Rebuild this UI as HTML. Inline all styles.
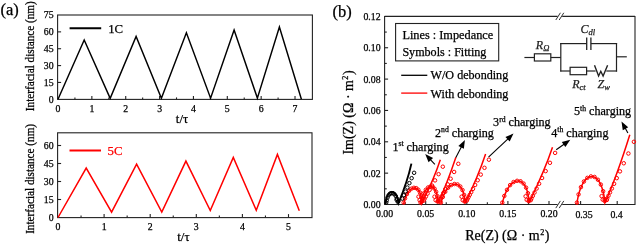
<!DOCTYPE html>
<html><head><meta charset="utf-8"><style>
html,body{margin:0;padding:0;background:#fff;}
svg{display:block;will-change:transform;}
text{font-family:"Liberation Serif",serif;stroke-width:0.25px;}
</style></head><body>
<svg width="637" height="244" viewBox="0 0 637 244">
<rect width="637" height="244" fill="#fff"/>
<rect x="57.6" y="15.0" width="254.80" height="84.40" fill="none" stroke="#222" stroke-width="1.1"/>
<text x="58.00" y="111.50" font-size="9.8" text-anchor="middle" fill="#000" stroke="#000" >0</text>
<line x1="74.93" y1="99.40" x2="74.93" y2="97.40" stroke="#222" stroke-width="1.1" />
<line x1="91.86" y1="99.40" x2="91.86" y2="95.90" stroke="#222" stroke-width="1.1" />
<text x="91.86" y="111.50" font-size="9.8" text-anchor="middle" fill="#000" stroke="#000" >1</text>
<line x1="108.79" y1="99.40" x2="108.79" y2="97.40" stroke="#222" stroke-width="1.1" />
<line x1="125.72" y1="99.40" x2="125.72" y2="95.90" stroke="#222" stroke-width="1.1" />
<text x="125.72" y="111.50" font-size="9.8" text-anchor="middle" fill="#000" stroke="#000" >2</text>
<line x1="142.65" y1="99.40" x2="142.65" y2="97.40" stroke="#222" stroke-width="1.1" />
<line x1="159.58" y1="99.40" x2="159.58" y2="95.90" stroke="#222" stroke-width="1.1" />
<text x="159.58" y="111.50" font-size="9.8" text-anchor="middle" fill="#000" stroke="#000" >3</text>
<line x1="176.51" y1="99.40" x2="176.51" y2="97.40" stroke="#222" stroke-width="1.1" />
<line x1="193.44" y1="99.40" x2="193.44" y2="95.90" stroke="#222" stroke-width="1.1" />
<text x="193.44" y="111.50" font-size="9.8" text-anchor="middle" fill="#000" stroke="#000" >4</text>
<line x1="210.37" y1="99.40" x2="210.37" y2="97.40" stroke="#222" stroke-width="1.1" />
<line x1="227.30" y1="99.40" x2="227.30" y2="95.90" stroke="#222" stroke-width="1.1" />
<text x="227.30" y="111.50" font-size="9.8" text-anchor="middle" fill="#000" stroke="#000" >5</text>
<line x1="244.23" y1="99.40" x2="244.23" y2="97.40" stroke="#222" stroke-width="1.1" />
<line x1="261.16" y1="99.40" x2="261.16" y2="95.90" stroke="#222" stroke-width="1.1" />
<text x="261.16" y="111.50" font-size="9.8" text-anchor="middle" fill="#000" stroke="#000" >6</text>
<line x1="278.09" y1="99.40" x2="278.09" y2="97.40" stroke="#222" stroke-width="1.1" />
<line x1="295.02" y1="99.40" x2="295.02" y2="95.90" stroke="#222" stroke-width="1.1" />
<text x="295.02" y="111.50" font-size="9.8" text-anchor="middle" fill="#000" stroke="#000" >7</text>
<text x="53.60" y="102.70" font-size="9.8" text-anchor="end" fill="#000" stroke="#000" >0</text>
<line x1="57.60" y1="82.44" x2="61.10" y2="82.44" stroke="#222" stroke-width="1.1" />
<text x="53.60" y="85.84" font-size="9.8" text-anchor="end" fill="#000" stroke="#000" >15</text>
<line x1="57.60" y1="65.58" x2="61.10" y2="65.58" stroke="#222" stroke-width="1.1" />
<text x="53.60" y="68.98" font-size="9.8" text-anchor="end" fill="#000" stroke="#000" >30</text>
<line x1="57.60" y1="48.72" x2="61.10" y2="48.72" stroke="#222" stroke-width="1.1" />
<text x="53.60" y="52.12" font-size="9.8" text-anchor="end" fill="#000" stroke="#000" >45</text>
<line x1="57.60" y1="31.86" x2="61.10" y2="31.86" stroke="#222" stroke-width="1.1" />
<text x="53.60" y="35.26" font-size="9.8" text-anchor="end" fill="#000" stroke="#000" >60</text>
<text x="53.60" y="18.40" font-size="9.8" text-anchor="end" fill="#000" stroke="#000" >75</text>
<polyline points="58.00,99.30 84.20,40.01 110.19,98.36 136.10,36.47 161.39,98.29 186.39,32.76 210.59,98.19 234.10,29.95 257.38,98.09 279.40,27.06 301.40,99.30" fill="none" stroke="#000" stroke-width="1.45" stroke-linejoin="miter" stroke-miterlimit="10" />
<line x1="69.60" y1="28.20" x2="101.20" y2="28.20" stroke="#000" stroke-width="2" />
<text x="108.20" y="32.80" font-size="12.8" text-anchor="start" fill="#000" stroke="#000" >1C</text>
<text x="182.00" y="123.00" font-size="12.8" text-anchor="middle" fill="#000" stroke="#000" >t/τ</text>
<text transform="translate(34.0,56.2) rotate(-90) scale(1,1.13)" font-size="11.2" text-anchor="middle" fill="#000" stroke="#000">Interfacial distance (nm)</text>
<text x="0.50" y="15.20" font-size="16.5" text-anchor="start" fill="#000" stroke="#000" >(a)</text>
<rect x="57.6" y="132.8" width="254.40" height="84.80" fill="none" stroke="#222" stroke-width="1.1"/>
<text x="58.00" y="229.80" font-size="9.8" text-anchor="middle" fill="#000" stroke="#000" >0</text>
<line x1="81.05" y1="217.60" x2="81.05" y2="215.60" stroke="#222" stroke-width="1.1" />
<line x1="104.10" y1="217.60" x2="104.10" y2="214.10" stroke="#222" stroke-width="1.1" />
<text x="104.10" y="229.80" font-size="9.8" text-anchor="middle" fill="#000" stroke="#000" >1</text>
<line x1="127.15" y1="217.60" x2="127.15" y2="215.60" stroke="#222" stroke-width="1.1" />
<line x1="150.20" y1="217.60" x2="150.20" y2="214.10" stroke="#222" stroke-width="1.1" />
<text x="150.20" y="229.80" font-size="9.8" text-anchor="middle" fill="#000" stroke="#000" >2</text>
<line x1="173.25" y1="217.60" x2="173.25" y2="215.60" stroke="#222" stroke-width="1.1" />
<line x1="196.30" y1="217.60" x2="196.30" y2="214.10" stroke="#222" stroke-width="1.1" />
<text x="196.30" y="229.80" font-size="9.8" text-anchor="middle" fill="#000" stroke="#000" >3</text>
<line x1="219.35" y1="217.60" x2="219.35" y2="215.60" stroke="#222" stroke-width="1.1" />
<line x1="242.40" y1="217.60" x2="242.40" y2="214.10" stroke="#222" stroke-width="1.1" />
<text x="242.40" y="229.80" font-size="9.8" text-anchor="middle" fill="#000" stroke="#000" >4</text>
<line x1="265.45" y1="217.60" x2="265.45" y2="215.60" stroke="#222" stroke-width="1.1" />
<line x1="288.50" y1="217.60" x2="288.50" y2="214.10" stroke="#222" stroke-width="1.1" />
<text x="288.50" y="229.80" font-size="9.8" text-anchor="middle" fill="#000" stroke="#000" >5</text>
<text x="53.60" y="220.90" font-size="9.8" text-anchor="end" fill="#000" stroke="#000" >0</text>
<line x1="57.60" y1="199.50" x2="61.10" y2="199.50" stroke="#222" stroke-width="1.1" />
<text x="53.60" y="202.90" font-size="9.8" text-anchor="end" fill="#000" stroke="#000" >15</text>
<line x1="57.60" y1="181.50" x2="61.10" y2="181.50" stroke="#222" stroke-width="1.1" />
<text x="53.60" y="184.90" font-size="9.8" text-anchor="end" fill="#000" stroke="#000" >30</text>
<line x1="57.60" y1="163.50" x2="61.10" y2="163.50" stroke="#222" stroke-width="1.1" />
<text x="53.60" y="166.90" font-size="9.8" text-anchor="end" fill="#000" stroke="#000" >45</text>
<line x1="57.60" y1="145.50" x2="61.10" y2="145.50" stroke="#222" stroke-width="1.1" />
<text x="53.60" y="148.90" font-size="9.8" text-anchor="end" fill="#000" stroke="#000" >60</text>
<polyline points="58.00,217.50 86.20,168.07 111.58,212.10 136.60,164.03 161.78,212.04 185.91,161.09 210.28,210.48 233.30,157.37 256.28,210.37 277.41,154.47 299.30,210.80" fill="none" stroke="#f00" stroke-width="1.5" stroke-linejoin="miter" stroke-miterlimit="10" />
<line x1="69.50" y1="150.50" x2="101.00" y2="150.50" stroke="#f00" stroke-width="2" />
<text x="107.50" y="155.00" font-size="12.8" text-anchor="start" fill="#f00" stroke="#f00" >5C</text>
<text x="183.40" y="241.40" font-size="12.8" text-anchor="middle" fill="#000" stroke="#000" >t/τ</text>
<text transform="translate(33.9,178.9) rotate(-90) scale(1,1.13)" font-size="11.2" text-anchor="middle" fill="#000" stroke="#000">Interfacial distance (nm)</text>
<line x1="384.60" y1="15.90" x2="384.60" y2="205.00" stroke="#222" stroke-width="1.1" />
<line x1="635.00" y1="15.90" x2="635.00" y2="205.00" stroke="#222" stroke-width="1.1" />
<line x1="384.60" y1="16.40" x2="557.60" y2="16.40" stroke="#222" stroke-width="1.1" />
<line x1="562.20" y1="16.40" x2="635.00" y2="16.40" stroke="#222" stroke-width="1.1" />
<line x1="384.60" y1="204.50" x2="557.60" y2="204.50" stroke="#222" stroke-width="1.1" />
<line x1="562.20" y1="204.50" x2="635.00" y2="204.50" stroke="#222" stroke-width="1.1" />
<line x1="555.80" y1="20.00" x2="560.40" y2="12.80" stroke="#333" stroke-width="1" />
<line x1="559.20" y1="20.00" x2="563.80" y2="12.80" stroke="#333" stroke-width="1" />
<line x1="555.80" y1="208.10" x2="560.40" y2="200.90" stroke="#333" stroke-width="1" />
<line x1="559.20" y1="208.10" x2="563.80" y2="200.90" stroke="#333" stroke-width="1" />
<text x="380.60" y="207.90" font-size="9.8" text-anchor="end" fill="#000" stroke="#000" >0.00</text>
<line x1="384.60" y1="188.82" x2="386.80" y2="188.82" stroke="#222" stroke-width="1.1" />
<line x1="384.60" y1="173.15" x2="388.10" y2="173.15" stroke="#222" stroke-width="1.1" />
<text x="380.60" y="176.55" font-size="9.8" text-anchor="end" fill="#000" stroke="#000" >0.02</text>
<line x1="384.60" y1="157.47" x2="386.80" y2="157.47" stroke="#222" stroke-width="1.1" />
<line x1="384.60" y1="141.80" x2="388.10" y2="141.80" stroke="#222" stroke-width="1.1" />
<text x="380.60" y="145.20" font-size="9.8" text-anchor="end" fill="#000" stroke="#000" >0.04</text>
<line x1="384.60" y1="126.12" x2="386.80" y2="126.12" stroke="#222" stroke-width="1.1" />
<line x1="384.60" y1="110.45" x2="388.10" y2="110.45" stroke="#222" stroke-width="1.1" />
<text x="380.60" y="113.85" font-size="9.8" text-anchor="end" fill="#000" stroke="#000" >0.06</text>
<line x1="384.60" y1="94.77" x2="386.80" y2="94.77" stroke="#222" stroke-width="1.1" />
<line x1="384.60" y1="79.10" x2="388.10" y2="79.10" stroke="#222" stroke-width="1.1" />
<text x="380.60" y="82.50" font-size="9.8" text-anchor="end" fill="#000" stroke="#000" >0.08</text>
<line x1="384.60" y1="63.42" x2="386.80" y2="63.42" stroke="#222" stroke-width="1.1" />
<line x1="384.60" y1="47.75" x2="388.10" y2="47.75" stroke="#222" stroke-width="1.1" />
<text x="380.60" y="51.15" font-size="9.8" text-anchor="end" fill="#000" stroke="#000" >0.10</text>
<line x1="384.60" y1="32.07" x2="386.80" y2="32.07" stroke="#222" stroke-width="1.1" />
<text x="380.60" y="19.80" font-size="9.8" text-anchor="end" fill="#000" stroke="#000" >0.12</text>
<text x="384.60" y="217.40" font-size="9.8" text-anchor="middle" fill="#000" stroke="#000" >0.00</text>
<line x1="405.15" y1="204.50" x2="405.15" y2="202.30" stroke="#222" stroke-width="1.1" />
<line x1="425.70" y1="204.50" x2="425.70" y2="201.00" stroke="#222" stroke-width="1.1" />
<text x="425.70" y="217.40" font-size="9.8" text-anchor="middle" fill="#000" stroke="#000" >0.05</text>
<line x1="446.25" y1="204.50" x2="446.25" y2="202.30" stroke="#222" stroke-width="1.1" />
<line x1="466.80" y1="204.50" x2="466.80" y2="201.00" stroke="#222" stroke-width="1.1" />
<text x="466.80" y="217.40" font-size="9.8" text-anchor="middle" fill="#000" stroke="#000" >0.10</text>
<line x1="487.35" y1="204.50" x2="487.35" y2="202.30" stroke="#222" stroke-width="1.1" />
<line x1="507.90" y1="204.50" x2="507.90" y2="201.00" stroke="#222" stroke-width="1.1" />
<text x="507.90" y="217.40" font-size="9.8" text-anchor="middle" fill="#000" stroke="#000" >0.15</text>
<line x1="528.45" y1="204.50" x2="528.45" y2="202.30" stroke="#222" stroke-width="1.1" />
<line x1="549.00" y1="204.50" x2="549.00" y2="201.00" stroke="#222" stroke-width="1.1" />
<text x="549.00" y="217.40" font-size="9.8" text-anchor="middle" fill="#000" stroke="#000" >0.20</text>
<line x1="580.60" y1="204.50" x2="580.60" y2="201.00" stroke="#222" stroke-width="1.1" />
<line x1="617.20" y1="204.50" x2="617.20" y2="201.00" stroke="#222" stroke-width="1.1" />
<text x="584.00" y="218.30" font-size="9.8" text-anchor="middle" fill="#000" stroke="#000" >0.35</text>
<text x="616.50" y="217.60" font-size="9.8" text-anchor="middle" fill="#000" stroke="#000" >0.4</text>
<text x="465.2" y="239.8" font-size="14" fill="#000" stroke="#000">Re(Z) (Ω · m<tspan font-size="8.2" dy="-5.2" dx="0.4">2</tspan><tspan dy="5.2" dx="0.5">)</tspan></text>
<g transform="translate(352.8,154.6) rotate(-90)"><text font-size="14" fill="#000" stroke="#000">Im(Z) (Ω · m<tspan font-size="8.2" dy="-5.2" dx="0.4">2</tspan><tspan dy="5.2" dx="0.5">)</tspan></text></g>
<text x="332.50" y="17.40" font-size="16.5" text-anchor="start" fill="#000" stroke="#000" >(b)</text>
<rect x="395.6" y="23.5" width="103.1" height="37.4" fill="none" stroke="#222" stroke-width="1.1"/>
<text x="402.40" y="38.70" font-size="12.3" text-anchor="start" fill="#000" stroke="#000" >Lines : Impedance</text>
<text x="402.40" y="55.80" font-size="12.1" text-anchor="start" fill="#000" stroke="#000" >Symbols : Fitting</text>
<line x1="401.20" y1="75.30" x2="427.30" y2="75.30" stroke="#000" stroke-width="1.3" />
<line x1="401.20" y1="93.10" x2="427.30" y2="93.10" stroke="#f00" stroke-width="1.3" />
<text x="430.60" y="79.40" font-size="12.1" text-anchor="start" fill="#000" stroke="#000" >W/O debonding</text>
<text x="430.60" y="97.80" font-size="12.1" text-anchor="start" fill="#000" stroke="#000" >With debonding</text>
<line x1="524.40" y1="57.50" x2="534.40" y2="57.50" stroke="#222" stroke-width="1.2" />
<rect x="534.4" y="53.8" width="16.4" height="7.2" fill="none" stroke="#222" stroke-width="1.2"/>
<line x1="550.80" y1="57.50" x2="560.80" y2="57.50" stroke="#222" stroke-width="1.2" />
<line x1="560.80" y1="43.00" x2="560.80" y2="71.60" stroke="#222" stroke-width="1.2" />
<line x1="560.20" y1="43.60" x2="586.70" y2="43.60" stroke="#222" stroke-width="1.2" />
<line x1="586.70" y1="37.50" x2="586.70" y2="49.90" stroke="#222" stroke-width="1.3" />
<line x1="590.90" y1="37.50" x2="590.90" y2="49.90" stroke="#222" stroke-width="1.3" />
<line x1="590.90" y1="43.60" x2="617.10" y2="43.60" stroke="#222" stroke-width="1.2" />
<line x1="560.20" y1="71.00" x2="570.10" y2="71.00" stroke="#222" stroke-width="1.2" />
<rect x="570.1" y="67.3" width="16.5" height="7.4" fill="none" stroke="#222" stroke-width="1.2"/>
<line x1="586.60" y1="71.00" x2="595.60" y2="71.00" stroke="#222" stroke-width="1.2" />
<polyline points="594.50,65.30 598.60,76.00 600.80,71.30 603.10,76.00 607.60,65.30" fill="none" stroke="#222" stroke-width="1.4" stroke-linejoin="miter" stroke-miterlimit="10" />
<line x1="606.30" y1="71.00" x2="617.10" y2="71.00" stroke="#222" stroke-width="1.2" />
<line x1="616.50" y1="43.00" x2="616.50" y2="71.60" stroke="#222" stroke-width="1.2" />
<line x1="616.50" y1="56.80" x2="626.80" y2="56.80" stroke="#222" stroke-width="1.2" />
<text x="535.8" y="48.9" font-size="12" fill="#222" stroke="#222" font-style="italic">R<tspan font-size="8.5" dy="2.5">Ω</tspan></text>
<text x="580.6" y="32.5" font-size="12" fill="#222" stroke="#222" font-style="italic">C<tspan font-size="8.5" dy="2.5">dl</tspan></text>
<text x="572.2" y="88" font-size="12" fill="#222" stroke="#222" font-style="italic">R<tspan font-size="8.5" dy="2">ct</tspan></text>
<text x="597.5" y="88" font-size="12" fill="#222" stroke="#222" font-style="italic">Z<tspan font-size="8.5" dy="2">w</tspan></text>
<text x="392.4" y="150.5" font-size="12.1" fill="#000" stroke="#000">1<tspan font-size="7.7" dy="-4.3">st</tspan><tspan dy="4.3"> charging</tspan></text>
<text x="435.0" y="136.5" font-size="12.1" fill="#000" stroke="#000">2<tspan font-size="7.7" dy="-4.3">nd</tspan><tspan dy="4.3"> charging</tspan></text>
<text x="493.1" y="125.8" font-size="12.1" fill="#000" stroke="#000">3<tspan font-size="7.7" dy="-4.3">rd</tspan><tspan dy="4.3"> charging</tspan></text>
<text x="551.3" y="136.5" font-size="12.1" fill="#000" stroke="#000">4<tspan font-size="7.7" dy="-4.3">th</tspan><tspan dy="4.3"> charging</tspan></text>
<text x="574.0" y="115.3" font-size="12.1" fill="#000" stroke="#000">5<tspan font-size="7.7" dy="-4.3">th</tspan><tspan dy="4.3"> charging</tspan></text>
<line x1="434.90" y1="164.40" x2="430.14" y2="159.34" stroke="#000" stroke-width="1.1" />
<polygon points="425.20,154.10 433.08,157.94 428.57,162.19" fill="#000"/>
<line x1="455.60" y1="158.00" x2="461.58" y2="146.49" stroke="#000" stroke-width="1.1" />
<polygon points="464.90,140.10 463.87,148.81 458.37,145.95" fill="#000"/>
<line x1="488.50" y1="157.20" x2="508.26" y2="138.54" stroke="#000" stroke-width="1.1" />
<polygon points="513.50,133.60 509.67,141.48 505.41,136.97" fill="#000"/>
<line x1="556.20" y1="149.70" x2="564.41" y2="143.94" stroke="#000" stroke-width="1.1" />
<polygon points="570.30,139.80 565.37,147.05 561.81,141.97" fill="#000"/>
<line x1="627.90" y1="133.00" x2="625.00" y2="127.79" stroke="#000" stroke-width="1.1" />
<polygon points="621.50,121.50 628.20,127.16 622.78,130.17" fill="#000"/>
<path d="M403.60,204.00 L403.80,203.10 L404.02,202.20 L404.25,201.33 L404.49,200.46 L404.75,199.62 L405.03,198.79 L405.32,197.99 L405.62,197.20 L405.93,196.45 L406.26,195.71 L406.60,195.00 L406.95,194.32 L407.30,193.67 L407.67,193.05 L408.05,192.46 L408.43,191.90 L408.82,191.38 L409.22,190.89 L409.62,190.44 L410.03,190.02 L410.44,189.64 L410.86,189.30 L411.27,189.00 L411.69,188.74 L412.11,188.51 L412.53,188.33 L412.95,188.18 L413.37,188.08 L413.79,188.02 L414.20,188.00 L414.61,187.98 L415.02,188.01 L415.42,188.08 L415.82,188.18 L416.21,188.33 L416.59,188.52 L416.96,188.75 L417.33,189.02 L417.68,189.33 L418.02,189.67 L418.36,190.06 L418.68,190.48 L418.99,190.94 L419.28,191.43 L419.56,191.96 L419.83,192.52 L420.08,193.11 L420.32,193.74 L420.55,194.39 L420.75,195.08 L420.94,195.79 L421.12,196.53 L421.27,197.29 L421.41,198.08 L421.54,198.88 L421.64,199.71 L421.73,200.56 L421.79,201.43 L421.84,202.31 L421.88,203.20 Q434.39,178.02 440.30,159.70" fill="none" stroke="#f00" stroke-width="1.5" stroke-linejoin="miter"/>
<path d="M420.50,204.00 L420.69,203.03 L420.90,202.07 L421.13,201.13 L421.37,200.20 L421.62,199.29 L421.88,198.40 L422.16,197.54 L422.45,196.70 L422.75,195.88 L423.07,195.09 L423.39,194.33 L423.73,193.60 L424.07,192.90 L424.42,192.23 L424.78,191.60 L425.15,191.00 L425.52,190.43 L425.90,189.91 L426.29,189.42 L426.68,188.97 L427.07,188.57 L427.47,188.20 L427.86,187.87 L428.26,187.59 L428.66,187.35 L429.06,187.15 L429.46,187.00 L429.86,186.89 L430.26,186.82 L430.65,186.80 L431.04,186.79 L431.43,186.82 L431.81,186.89 L432.19,187.01 L432.56,187.17 L432.92,187.38 L433.27,187.62 L433.61,187.92 L433.95,188.25 L434.27,188.62 L434.59,189.04 L434.89,189.49 L435.18,189.99 L435.46,190.52 L435.73,191.09 L435.98,191.70 L436.22,192.34 L436.44,193.01 L436.65,193.72 L436.84,194.45 L437.02,195.22 L437.18,196.02 L437.33,196.84 L437.46,197.69 L437.57,198.56 L437.66,199.45 L437.74,200.36 L437.80,201.29 L437.84,202.24 L437.87,203.20 Q447.02,183.83 455.80,157.50" fill="none" stroke="#f00" stroke-width="1.5" stroke-linejoin="miter"/>
<path d="M440.80,204.00 L441.07,202.88 L441.35,201.78 L441.66,200.69 L441.99,199.62 L442.33,198.58 L442.70,197.56 L443.08,196.56 L443.48,195.59 L443.90,194.65 L444.33,193.74 L444.78,192.87 L445.24,192.02 L445.71,191.22 L446.20,190.45 L446.70,189.72 L447.21,189.03 L447.73,188.38 L448.25,187.78 L448.79,187.22 L449.33,186.70 L449.87,186.23 L450.42,185.81 L450.97,185.44 L451.53,185.11 L452.09,184.83 L452.64,184.61 L453.20,184.43 L453.75,184.30 L454.30,184.23 L454.85,184.20 L455.40,184.19 L455.93,184.23 L456.47,184.32 L456.99,184.46 L457.50,184.65 L458.01,184.90 L458.50,185.19 L458.98,185.53 L459.45,185.92 L459.90,186.35 L460.34,186.84 L460.77,187.36 L461.17,187.94 L461.56,188.56 L461.94,189.22 L462.29,189.92 L462.62,190.66 L462.94,191.44 L463.23,192.26 L463.51,193.11 L463.76,193.99 L463.99,194.91 L464.19,195.86 L464.38,196.84 L464.54,197.84 L464.67,198.87 L464.79,199.93 L464.88,201.00 L464.94,202.09 L464.98,203.20 Q477.80,177.40 485.60,154.00" fill="none" stroke="#f00" stroke-width="1.5" stroke-linejoin="miter"/>
<path d="M502.20,204.00 L502.48,202.70 L502.79,201.42 L503.12,200.16 L503.47,198.92 L503.84,197.70 L504.23,196.52 L504.65,195.36 L505.08,194.23 L505.53,193.14 L506.00,192.08 L506.49,191.07 L506.99,190.09 L507.51,189.15 L508.04,188.26 L508.58,187.41 L509.14,186.61 L509.70,185.86 L510.28,185.16 L510.86,184.51 L511.46,183.91 L512.06,183.36 L512.66,182.87 L513.27,182.44 L513.88,182.06 L514.50,181.74 L515.11,181.47 L515.72,181.27 L516.34,181.12 L516.94,181.03 L517.55,181.00 L518.15,180.98 L518.75,181.01 L519.34,181.10 L519.93,181.26 L520.50,181.47 L521.06,181.74 L521.61,182.06 L522.15,182.45 L522.67,182.89 L523.18,183.38 L523.68,183.93 L524.15,184.54 L524.61,185.19 L525.05,185.90 L525.47,186.66 L525.87,187.46 L526.25,188.31 L526.61,189.21 L526.94,190.15 L527.25,191.13 L527.54,192.15 L527.81,193.21 L528.05,194.31 L528.26,195.44 L528.45,196.60 L528.62,197.79 L528.75,199.01 L528.86,200.25 L528.95,201.52 L529.00,202.80 Q544.90,170.00 552.50,147.20" fill="none" stroke="#f00" stroke-width="1.5" stroke-linejoin="miter"/>
<path d="M576.90,204.00 L577.11,202.45 L577.34,200.92 L577.59,199.42 L577.88,197.94 L578.18,196.50 L578.51,195.08 L578.87,193.70 L579.24,192.36 L579.64,191.06 L580.06,189.80 L580.50,188.59 L580.96,187.43 L581.43,186.31 L581.93,185.25 L582.44,184.24 L582.97,183.29 L583.51,182.39 L584.06,181.55 L584.63,180.78 L585.21,180.06 L585.80,179.41 L586.40,178.83 L587.01,178.31 L587.63,177.86 L588.25,177.48 L588.87,177.16 L589.50,176.92 L590.13,176.74 L590.77,176.64 L591.40,176.60 L592.03,176.57 L592.66,176.61 L593.29,176.73 L593.91,176.91 L594.53,177.16 L595.13,177.48 L595.73,177.88 L596.32,178.33 L596.90,178.86 L597.47,179.45 L598.03,180.11 L598.57,180.83 L599.09,181.61 L599.61,182.45 L600.10,183.36 L600.57,184.32 L601.03,185.33 L601.47,186.40 L601.89,187.52 L602.28,188.69 L602.65,189.91 L603.01,191.18 L603.33,192.48 L603.64,193.83 L603.92,195.21 L604.17,196.63 L604.40,198.08 L604.60,199.56 L604.78,201.07 L604.93,202.60 Q616.68,176.68 629.80,134.70" fill="none" stroke="#f00" stroke-width="1.5" stroke-linejoin="miter"/>
<circle cx="403.65" cy="202.60" r="1.75" fill="none" stroke="#f00" stroke-width="1"/>
<circle cx="405.07" cy="198.37" r="1.75" fill="none" stroke="#f00" stroke-width="1"/>
<circle cx="406.93" cy="194.10" r="1.75" fill="none" stroke="#f00" stroke-width="1"/>
<circle cx="409.12" cy="190.80" r="1.75" fill="none" stroke="#f00" stroke-width="1"/>
<circle cx="411.49" cy="188.66" r="1.75" fill="none" stroke="#f00" stroke-width="1"/>
<circle cx="413.91" cy="187.81" r="1.75" fill="none" stroke="#f00" stroke-width="1"/>
<circle cx="416.24" cy="188.13" r="1.75" fill="none" stroke="#f00" stroke-width="1"/>
<circle cx="418.31" cy="189.75" r="1.75" fill="none" stroke="#f00" stroke-width="1"/>
<circle cx="420.01" cy="192.60" r="1.75" fill="none" stroke="#f00" stroke-width="1"/>
<circle cx="421.23" cy="196.50" r="1.75" fill="none" stroke="#f00" stroke-width="1"/>
<circle cx="421.88" cy="201.21" r="1.75" fill="none" stroke="#f00" stroke-width="1"/>
<circle cx="419.60" cy="200.20" r="1.75" fill="none" stroke="#f00" stroke-width="1"/>
<circle cx="418.50" cy="196.70" r="1.75" fill="none" stroke="#f00" stroke-width="1"/>
<circle cx="421.60" cy="201.60" r="1.75" fill="none" stroke="#f00" stroke-width="1"/>
<circle cx="423.70" cy="200.60" r="1.75" fill="none" stroke="#f00" stroke-width="1"/>
<circle cx="424.48" cy="199.00" r="1.75" fill="none" stroke="#f00" stroke-width="1"/>
<circle cx="425.90" cy="196.50" r="1.75" fill="none" stroke="#f00" stroke-width="1"/>
<circle cx="427.60" cy="193.50" r="1.75" fill="none" stroke="#f00" stroke-width="1"/>
<circle cx="429.64" cy="189.90" r="1.75" fill="none" stroke="#f00" stroke-width="1"/>
<circle cx="432.10" cy="185.58" r="1.75" fill="none" stroke="#f00" stroke-width="1"/>
<circle cx="435.04" cy="180.39" r="1.75" fill="none" stroke="#f00" stroke-width="1"/>
<circle cx="438.57" cy="174.17" r="1.75" fill="none" stroke="#f00" stroke-width="1"/>
<circle cx="442.80" cy="166.70" r="1.75" fill="none" stroke="#f00" stroke-width="1"/>
<circle cx="420.54" cy="202.60" r="1.75" fill="none" stroke="#f00" stroke-width="1"/>
<circle cx="421.92" cy="197.95" r="1.75" fill="none" stroke="#f00" stroke-width="1"/>
<circle cx="423.71" cy="193.37" r="1.75" fill="none" stroke="#f00" stroke-width="1"/>
<circle cx="425.80" cy="189.82" r="1.75" fill="none" stroke="#f00" stroke-width="1"/>
<circle cx="428.07" cy="187.52" r="1.75" fill="none" stroke="#f00" stroke-width="1"/>
<circle cx="430.37" cy="186.61" r="1.75" fill="none" stroke="#f00" stroke-width="1"/>
<circle cx="432.58" cy="186.97" r="1.75" fill="none" stroke="#f00" stroke-width="1"/>
<circle cx="434.55" cy="188.73" r="1.75" fill="none" stroke="#f00" stroke-width="1"/>
<circle cx="436.15" cy="191.80" r="1.75" fill="none" stroke="#f00" stroke-width="1"/>
<circle cx="437.29" cy="196.00" r="1.75" fill="none" stroke="#f00" stroke-width="1"/>
<circle cx="437.89" cy="201.06" r="1.75" fill="none" stroke="#f00" stroke-width="1"/>
<circle cx="435.60" cy="200.20" r="1.75" fill="none" stroke="#f00" stroke-width="1"/>
<circle cx="434.50" cy="196.70" r="1.75" fill="none" stroke="#f00" stroke-width="1"/>
<circle cx="437.60" cy="201.60" r="1.75" fill="none" stroke="#f00" stroke-width="1"/>
<circle cx="439.70" cy="200.60" r="1.75" fill="none" stroke="#f00" stroke-width="1"/>
<circle cx="440.25" cy="199.00" r="1.75" fill="none" stroke="#f00" stroke-width="1"/>
<circle cx="441.65" cy="196.27" r="1.75" fill="none" stroke="#f00" stroke-width="1"/>
<circle cx="443.33" cy="193.00" r="1.75" fill="none" stroke="#f00" stroke-width="1"/>
<circle cx="445.34" cy="189.08" r="1.75" fill="none" stroke="#f00" stroke-width="1"/>
<circle cx="447.75" cy="184.37" r="1.75" fill="none" stroke="#f00" stroke-width="1"/>
<circle cx="450.65" cy="178.72" r="1.75" fill="none" stroke="#f00" stroke-width="1"/>
<circle cx="454.13" cy="171.94" r="1.75" fill="none" stroke="#f00" stroke-width="1"/>
<circle cx="458.30" cy="163.80" r="1.75" fill="none" stroke="#f00" stroke-width="1"/>
<circle cx="440.89" cy="202.60" r="1.75" fill="none" stroke="#f00" stroke-width="1"/>
<circle cx="442.77" cy="197.05" r="1.75" fill="none" stroke="#f00" stroke-width="1"/>
<circle cx="445.24" cy="191.79" r="1.75" fill="none" stroke="#f00" stroke-width="1"/>
<circle cx="448.13" cy="187.71" r="1.75" fill="none" stroke="#f00" stroke-width="1"/>
<circle cx="451.27" cy="185.06" r="1.75" fill="none" stroke="#f00" stroke-width="1"/>
<circle cx="454.46" cy="184.01" r="1.75" fill="none" stroke="#f00" stroke-width="1"/>
<circle cx="457.53" cy="184.45" r="1.75" fill="none" stroke="#f00" stroke-width="1"/>
<circle cx="460.27" cy="186.50" r="1.75" fill="none" stroke="#f00" stroke-width="1"/>
<circle cx="462.51" cy="190.06" r="1.75" fill="none" stroke="#f00" stroke-width="1"/>
<circle cx="464.10" cy="194.91" r="1.75" fill="none" stroke="#f00" stroke-width="1"/>
<circle cx="464.96" cy="200.74" r="1.75" fill="none" stroke="#f00" stroke-width="1"/>
<circle cx="462.70" cy="200.20" r="1.75" fill="none" stroke="#f00" stroke-width="1"/>
<circle cx="461.60" cy="196.70" r="1.75" fill="none" stroke="#f00" stroke-width="1"/>
<circle cx="464.70" cy="201.60" r="1.75" fill="none" stroke="#f00" stroke-width="1"/>
<circle cx="466.80" cy="200.60" r="1.75" fill="none" stroke="#f00" stroke-width="1"/>
<circle cx="467.49" cy="199.00" r="1.75" fill="none" stroke="#f00" stroke-width="1"/>
<circle cx="468.52" cy="197.11" r="1.75" fill="none" stroke="#f00" stroke-width="1"/>
<circle cx="469.75" cy="194.84" r="1.75" fill="none" stroke="#f00" stroke-width="1"/>
<circle cx="471.24" cy="192.12" r="1.75" fill="none" stroke="#f00" stroke-width="1"/>
<circle cx="473.01" cy="188.86" r="1.75" fill="none" stroke="#f00" stroke-width="1"/>
<circle cx="475.15" cy="184.94" r="1.75" fill="none" stroke="#f00" stroke-width="1"/>
<circle cx="477.71" cy="180.24" r="1.75" fill="none" stroke="#f00" stroke-width="1"/>
<circle cx="480.78" cy="174.60" r="1.75" fill="none" stroke="#f00" stroke-width="1"/>
<circle cx="484.47" cy="167.82" r="1.75" fill="none" stroke="#f00" stroke-width="1"/>
<circle cx="488.90" cy="159.70" r="1.75" fill="none" stroke="#f00" stroke-width="1"/>
<circle cx="502.30" cy="202.60" r="1.75" fill="none" stroke="#f00" stroke-width="1"/>
<circle cx="504.32" cy="195.95" r="1.75" fill="none" stroke="#f00" stroke-width="1"/>
<circle cx="506.99" cy="189.84" r="1.75" fill="none" stroke="#f00" stroke-width="1"/>
<circle cx="510.14" cy="185.10" r="1.75" fill="none" stroke="#f00" stroke-width="1"/>
<circle cx="513.59" cy="182.03" r="1.75" fill="none" stroke="#f00" stroke-width="1"/>
<circle cx="517.11" cy="180.82" r="1.75" fill="none" stroke="#f00" stroke-width="1"/>
<circle cx="520.52" cy="181.26" r="1.75" fill="none" stroke="#f00" stroke-width="1"/>
<circle cx="523.58" cy="183.57" r="1.75" fill="none" stroke="#f00" stroke-width="1"/>
<circle cx="526.10" cy="187.65" r="1.75" fill="none" stroke="#f00" stroke-width="1"/>
<circle cx="527.93" cy="193.22" r="1.75" fill="none" stroke="#f00" stroke-width="1"/>
<circle cx="528.95" cy="199.97" r="1.75" fill="none" stroke="#f00" stroke-width="1"/>
<circle cx="526.70" cy="199.80" r="1.75" fill="none" stroke="#f00" stroke-width="1"/>
<circle cx="525.60" cy="196.30" r="1.75" fill="none" stroke="#f00" stroke-width="1"/>
<circle cx="528.70" cy="201.20" r="1.75" fill="none" stroke="#f00" stroke-width="1"/>
<circle cx="530.80" cy="200.20" r="1.75" fill="none" stroke="#f00" stroke-width="1"/>
<circle cx="531.38" cy="198.60" r="1.75" fill="none" stroke="#f00" stroke-width="1"/>
<circle cx="532.82" cy="195.83" r="1.75" fill="none" stroke="#f00" stroke-width="1"/>
<circle cx="534.54" cy="192.51" r="1.75" fill="none" stroke="#f00" stroke-width="1"/>
<circle cx="536.61" cy="188.52" r="1.75" fill="none" stroke="#f00" stroke-width="1"/>
<circle cx="539.10" cy="183.73" r="1.75" fill="none" stroke="#f00" stroke-width="1"/>
<circle cx="542.08" cy="177.99" r="1.75" fill="none" stroke="#f00" stroke-width="1"/>
<circle cx="545.66" cy="171.10" r="1.75" fill="none" stroke="#f00" stroke-width="1"/>
<circle cx="549.95" cy="162.82" r="1.75" fill="none" stroke="#f00" stroke-width="1"/>
<circle cx="555.10" cy="152.90" r="1.75" fill="none" stroke="#f00" stroke-width="1"/>
<circle cx="576.94" cy="202.60" r="1.75" fill="none" stroke="#f00" stroke-width="1"/>
<circle cx="578.57" cy="194.42" r="1.75" fill="none" stroke="#f00" stroke-width="1"/>
<circle cx="580.94" cy="187.15" r="1.75" fill="none" stroke="#f00" stroke-width="1"/>
<circle cx="583.92" cy="181.52" r="1.75" fill="none" stroke="#f00" stroke-width="1"/>
<circle cx="587.32" cy="177.87" r="1.75" fill="none" stroke="#f00" stroke-width="1"/>
<circle cx="590.93" cy="176.42" r="1.75" fill="none" stroke="#f00" stroke-width="1"/>
<circle cx="594.53" cy="176.96" r="1.75" fill="none" stroke="#f00" stroke-width="1"/>
<circle cx="597.90" cy="179.72" r="1.75" fill="none" stroke="#f00" stroke-width="1"/>
<circle cx="600.83" cy="184.57" r="1.75" fill="none" stroke="#f00" stroke-width="1"/>
<circle cx="603.13" cy="191.21" r="1.75" fill="none" stroke="#f00" stroke-width="1"/>
<circle cx="604.66" cy="199.24" r="1.75" fill="none" stroke="#f00" stroke-width="1"/>
<circle cx="602.70" cy="199.60" r="1.75" fill="none" stroke="#f00" stroke-width="1"/>
<circle cx="601.60" cy="196.10" r="1.75" fill="none" stroke="#f00" stroke-width="1"/>
<circle cx="604.70" cy="201.00" r="1.75" fill="none" stroke="#f00" stroke-width="1"/>
<circle cx="606.80" cy="200.00" r="1.75" fill="none" stroke="#f00" stroke-width="1"/>
<circle cx="607.18" cy="198.40" r="1.75" fill="none" stroke="#f00" stroke-width="1"/>
<circle cx="608.47" cy="195.68" r="1.75" fill="none" stroke="#f00" stroke-width="1"/>
<circle cx="610.01" cy="192.41" r="1.75" fill="none" stroke="#f00" stroke-width="1"/>
<circle cx="611.86" cy="188.49" r="1.75" fill="none" stroke="#f00" stroke-width="1"/>
<circle cx="614.08" cy="183.79" r="1.75" fill="none" stroke="#f00" stroke-width="1"/>
<circle cx="616.74" cy="178.15" r="1.75" fill="none" stroke="#f00" stroke-width="1"/>
<circle cx="619.94" cy="171.38" r="1.75" fill="none" stroke="#f00" stroke-width="1"/>
<circle cx="623.77" cy="163.25" r="1.75" fill="none" stroke="#f00" stroke-width="1"/>
<circle cx="628.38" cy="153.50" r="1.75" fill="none" stroke="#f00" stroke-width="1"/>
<circle cx="633.90" cy="141.80" r="1.75" fill="none" stroke="#f00" stroke-width="1"/>
<path d="M385.60,204.00 L385.65,203.32 L385.72,202.65 L385.80,201.99 L385.89,201.35 L385.99,200.71 L386.11,200.09 L386.24,199.49 L386.38,198.90 L386.53,198.33 L386.69,197.78 L386.86,197.25 L387.04,196.74 L387.23,196.25 L387.43,195.79 L387.64,195.35 L387.86,194.93 L388.09,194.54 L388.33,194.17 L388.57,193.83 L388.82,193.52 L389.08,193.23 L389.34,192.98 L389.61,192.75 L389.88,192.55 L390.16,192.38 L390.44,192.25 L390.73,192.14 L391.02,192.06 L391.31,192.02 L391.60,192.00 L391.89,191.96 L392.18,191.95 L392.48,191.98 L392.77,192.03 L393.06,192.11 L393.35,192.23 L393.64,192.38 L393.92,192.55 L394.21,192.76 L394.48,192.99 L394.76,193.26 L395.03,193.55 L395.29,193.87 L395.55,194.22 L395.80,194.59 L396.05,194.99 L396.29,195.41 L396.52,195.86 L396.74,196.34 L396.96,196.83 L397.16,197.35 L397.36,197.89 L397.54,198.44 L397.72,199.02 L397.89,199.61 L398.04,200.22 L398.19,200.85 L398.32,201.49 L398.44,202.14 L398.55,202.80 Q407.55,181.33 411.40,163.60" fill="none" stroke="#000" stroke-width="1.9" stroke-linejoin="miter"/>
<circle cx="386.22" cy="202.60" r="1.75" fill="none" stroke="#000" stroke-width="1"/>
<circle cx="386.70" cy="200.47" r="1.75" fill="none" stroke="#000" stroke-width="1"/>
<circle cx="387.52" cy="197.54" r="1.75" fill="none" stroke="#000" stroke-width="1"/>
<circle cx="388.63" cy="195.26" r="1.75" fill="none" stroke="#000" stroke-width="1"/>
<circle cx="389.97" cy="193.79" r="1.75" fill="none" stroke="#000" stroke-width="1"/>
<circle cx="391.45" cy="193.21" r="1.75" fill="none" stroke="#000" stroke-width="1"/>
<circle cx="392.97" cy="193.28" r="1.75" fill="none" stroke="#000" stroke-width="1"/>
<circle cx="394.45" cy="194.24" r="1.75" fill="none" stroke="#000" stroke-width="1"/>
<circle cx="395.79" cy="196.06" r="1.75" fill="none" stroke="#000" stroke-width="1"/>
<circle cx="396.91" cy="198.63" r="1.75" fill="none" stroke="#000" stroke-width="1"/>
<circle cx="397.75" cy="201.79" r="1.75" fill="none" stroke="#000" stroke-width="1"/>
<circle cx="396.60" cy="199.80" r="1.75" fill="none" stroke="#000" stroke-width="1"/>
<circle cx="398.40" cy="201.20" r="1.75" fill="none" stroke="#000" stroke-width="1"/>
<circle cx="402.32" cy="198.60" r="1.75" fill="none" stroke="#000" stroke-width="1"/>
<circle cx="403.85" cy="195.26" r="1.75" fill="none" stroke="#000" stroke-width="1"/>
<circle cx="405.52" cy="191.58" r="1.75" fill="none" stroke="#000" stroke-width="1"/>
<circle cx="407.37" cy="187.53" r="1.75" fill="none" stroke="#000" stroke-width="1"/>
<circle cx="409.40" cy="183.08" r="1.75" fill="none" stroke="#000" stroke-width="1"/>
<circle cx="411.64" cy="178.19" r="1.75" fill="none" stroke="#000" stroke-width="1"/>
<circle cx="414.10" cy="172.80" r="1.75" fill="none" stroke="#000" stroke-width="1"/>
</svg>
</body></html>
